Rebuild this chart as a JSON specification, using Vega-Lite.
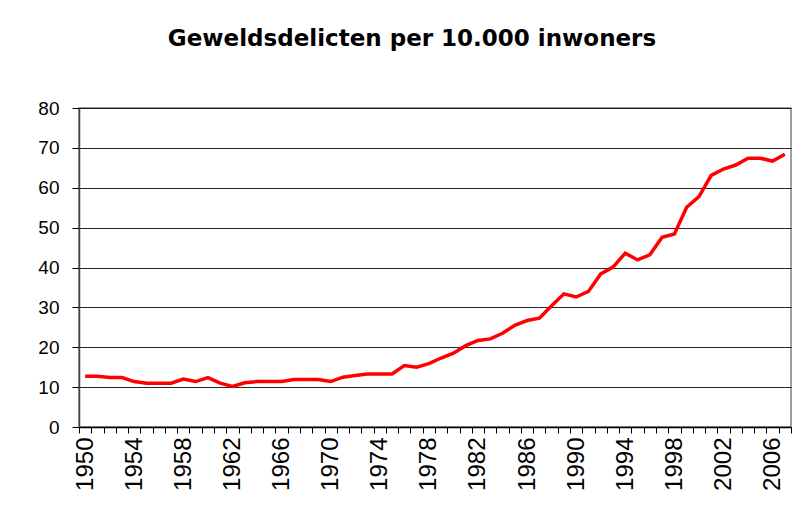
{
  "$schema": "https://vega.github.io/schema/vega-lite/v6.json",
  "autosize": {"type": "none"},
  "width": 712,
  "height": 319,
  "padding": {"left": 79, "top": 108, "right": 7, "bottom": 85},
  "background": "white",
  "title": {
    "text": "Geweldsdelicten per 10.000 inwoners",
    "font": "DejaVu Sans",
    "fontSize": 23,
    "fontWeight": "bold",
    "color": "#000000",
    "anchor": "middle",
    "dx": -23,
    "baseline": "alphabetic",
    "offset": 30
  },
  "config": {
    "view": {"stroke": "#808080", "strokeWidth": 1.5},
    "axis": {
      "labelFont": "Liberation Sans",
      "labelColor": "#000000",
      "tickColor": "#000000",
      "domainColor": "#000000",
      "titleFont": "Liberation Sans"
    }
  },
  "data": {
    "values": [
      {"year": 1950, "value": 12.7},
      {"year": 1951, "value": 12.7},
      {"year": 1952, "value": 12.4},
      {"year": 1953, "value": 12.4},
      {"year": 1954, "value": 11.4},
      {"year": 1955, "value": 11.0},
      {"year": 1956, "value": 11.0},
      {"year": 1957, "value": 11.0},
      {"year": 1958, "value": 12.0},
      {"year": 1959, "value": 11.4},
      {"year": 1960, "value": 12.4},
      {"year": 1961, "value": 11.0},
      {"year": 1962, "value": 10.2},
      {"year": 1963, "value": 11.1},
      {"year": 1964, "value": 11.4},
      {"year": 1965, "value": 11.4},
      {"year": 1966, "value": 11.4},
      {"year": 1967, "value": 11.9},
      {"year": 1968, "value": 11.9},
      {"year": 1969, "value": 11.9},
      {"year": 1970, "value": 11.4},
      {"year": 1971, "value": 12.5},
      {"year": 1972, "value": 12.9},
      {"year": 1973, "value": 13.3},
      {"year": 1974, "value": 13.3},
      {"year": 1975, "value": 13.3},
      {"year": 1976, "value": 15.4},
      {"year": 1977, "value": 15.0},
      {"year": 1978, "value": 15.9},
      {"year": 1979, "value": 17.3},
      {"year": 1980, "value": 18.5},
      {"year": 1981, "value": 20.4},
      {"year": 1982, "value": 21.7},
      {"year": 1983, "value": 22.1},
      {"year": 1984, "value": 23.5},
      {"year": 1985, "value": 25.5},
      {"year": 1986, "value": 26.7},
      {"year": 1987, "value": 27.3},
      {"year": 1988, "value": 30.4},
      {"year": 1989, "value": 33.4},
      {"year": 1990, "value": 32.6},
      {"year": 1991, "value": 34.0},
      {"year": 1992, "value": 38.4},
      {"year": 1993, "value": 40.1},
      {"year": 1994, "value": 43.6},
      {"year": 1995, "value": 41.9},
      {"year": 1996, "value": 43.2},
      {"year": 1997, "value": 47.6},
      {"year": 1998, "value": 48.4},
      {"year": 1999, "value": 55.1},
      {"year": 2000, "value": 57.8},
      {"year": 2001, "value": 63.1},
      {"year": 2002, "value": 64.7},
      {"year": 2003, "value": 65.7},
      {"year": 2004, "value": 67.4},
      {"year": 2005, "value": 67.4},
      {"year": 2006, "value": 66.7},
      {"year": 2007, "value": 68.4}
    ]
  },
  "mark": {"type": "line", "color": "#ff0000", "strokeWidth": 3.5, "strokeJoin": "miter"},
  "encoding": {
    "x": {
      "field": "year",
      "type": "ordinal",
      "scale": {"paddingInner": 0, "paddingOuter": 0},
      "axis": {
        "title": null,
        "labelAngle": -90,
        "labelAlign": "right",
        "labelBaseline": "middle",
        "labelFontSize": 24,
        "labelPadding": 4,
        "tickBand": "extent",
        "tickSize": 6,
        "domainWidth": 1.5,
        "labelOverlap": false,
        "labelExpr": "(+datum.value - 1950) % 4 == 0 ? datum.label : ''"
      }
    },
    "y": {
      "field": "value",
      "type": "quantitative",
      "scale": {"domain": [0, 80], "nice": false},
      "axis": {
        "title": null,
        "values": [0, 10, 20, 30, 40, 50, 60, 70, 80],
        "labelFontSize": 19,
        "labelPadding": 13,
        "tickSize": 7,
        "domainColor": "#404040",
        "domainWidth": 1.5,
        "grid": true,
        "gridColor": "#000000",
        "gridWidth": 1,
        "gridOpacity": 0.85
      }
    }
  }
}
